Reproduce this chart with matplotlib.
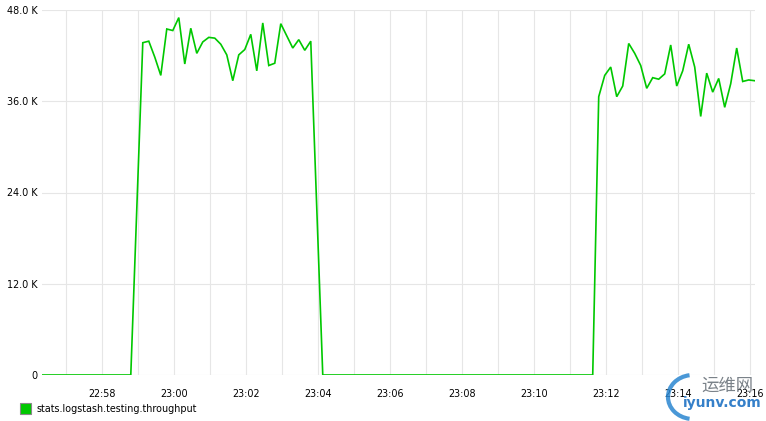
import numpy as np
import pandas as pd
import matplotlib
matplotlib.use("Agg")
import matplotlib.pyplot as plt
import matplotlib.dates as mdates
from matplotlib.patches import Rectangle, Arc

# ---- data (seconds offsets from 22:58:00, 10 s resolution) ----
base = pd.Timestamp("2015-01-01 22:58:00")
zeros1_times = np.arange(-102, 49, 10)          # flat zero run before first burst
burst1_times = np.arange(68, 349, 10)
zeros2_times = np.arange(368, 819, 10)
burst2_times = np.arange(828, 1089, 10)

zeros1_vals = [0] * len(zeros1_times)
burst1_vals = [43.7, 43.9, 41.8, 39.4, 45.5, 45.3, 47.0, 40.9, 45.6, 42.3,
               43.8, 44.4, 44.3, 43.5, 42.1, 38.7, 42.1, 42.8, 44.8, 40.0,
               46.3, 40.7, 41.0, 46.2, 44.6, 43.0, 44.1, 42.7, 43.9]
zeros2_vals = [0] * len(zeros2_times)
burst2_vals = [36.6, 39.4, 40.5, 36.6, 38.0, 43.6, 42.3, 40.7, 37.7, 39.1,
               38.9, 39.6, 43.4, 38.0, 40.0, 43.5, 40.5, 34.0, 39.7, 37.2,
               39.0, 35.2, 38.3, 43.0, 38.6, 38.8, 38.7]

series_name = "stats.logstash.testing.throughput"
ytick_values = [0, 12000, 24000, 36000, 48000]
ytick_labels = ["0", "12.0 K", "24.0 K", "36.0 K", "48.0 K"]

secs = np.concatenate([zeros1_times, burst1_times, zeros2_times, burst2_times])
vals = np.concatenate([zeros1_vals, np.array(burst1_vals) * 1000,
                       zeros2_vals, np.array(burst2_vals) * 1000])
times = base + pd.to_timedelta(secs, unit="s")

# ---- figure ----
W, H = 766, 421
fig = plt.figure(figsize=(W / 100, H / 100), dpi=100)
plt.rcParams['font.family'] = ['DejaVu Sans', 'Noto Sans CJK SC']
ax = fig.add_axes([42 / W, 46 / H, (755.3 - 42) / W, (375 - 10) / H])

green = "#00c800"
ax.plot(times, vals, color=green, lw=1.2, solid_joinstyle="miter", zorder=3)

ax.set_xlim(base - pd.Timedelta(seconds=100), base + pd.Timedelta(seconds=1089))
ax.set_ylim(0, 48000)

ax.xaxis.set_major_locator(mdates.MinuteLocator(byminute=range(0, 60, 2)))
ax.xaxis.set_minor_locator(mdates.MinuteLocator())
ax.xaxis.set_major_formatter(mdates.DateFormatter("%H:%M"))
ax.set_yticks(ytick_values)
ax.set_yticklabels(ytick_labels)

ax.grid(True, which="both", axis="x", color="#e6e6e6", lw=0.8, zorder=0)
ax.grid(True, which="major", axis="y", color="#e6e6e6", lw=0.8, zorder=0)
for s in ax.spines.values():
    s.set_visible(False)
ax.tick_params(axis="both", which="both", length=0, labelsize=6.9, colors="black")
ax.tick_params(axis="x", pad=10)
ax.tick_params(axis="y", pad=3)

# legend
fig.patches.append(Rectangle((20 / W, (H - 414) / H), 11 / W, 11 / H,
                             transform=fig.transFigure, facecolor=green,
                             edgecolor="#888888", lw=0.8))
fig.text(36.5 / W, (H - 408.5) / H, series_name, fontsize=6.9, va="center", ha="left")

# watermark
fig.patches.append(Arc((693 / W, (H - 397) / H), 50 / W, 44 / H, theta1=95, theta2=265,
                       transform=fig.transFigure, color="#2a86d0", lw=3, alpha=0.85))
fig.text(701 / W, (H - 386) / H, "运维网", fontsize=12.5, color="#6c747c",
         family=['Noto Sans CJK SC', 'DejaVu Sans'], va="center", ha="left", alpha=0.9)
fig.text(683 / W, (H - 403) / H, "iyunv.com", fontsize=10, color="#1f72c4",
         fontweight="bold", va="center", ha="left", alpha=0.9)

fig.savefig("out.png", dpi=100)
